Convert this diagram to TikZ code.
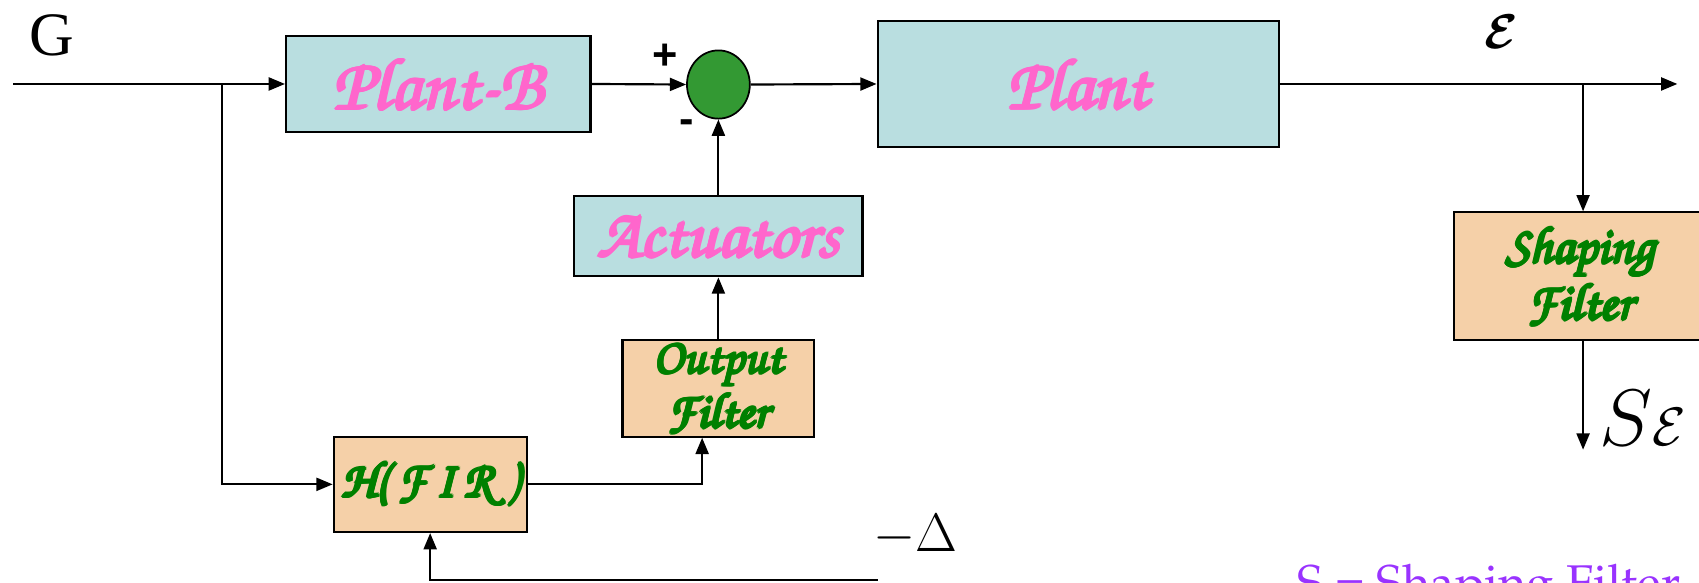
\RequirePackage{fix-cm}
\documentclass[tikz,border=0pt]{standalone}
\usepackage[T1]{fontenc}
\usepackage{fontspec}
\usetikzlibrary{arrows.meta,shapes.geometric,calc}
\newfontfamily\serifrm{Liberation Serif}
\newfontfamily\sansbf{Liberation Sans}[BoldFont={* Bold}]
% Chancery script face for the block titles
\newcommand\chanfont[2]{\fontencoding{T1}\fontfamily{pzc}\fontseries{mb}\fontshape{it}\fontsize{#1}{#2}\selectfont}
% Palatino face for the footnote
\newcommand\palfont[1]{\fontencoding{T1}\fontfamily{ppl}\fontseries{m}\fontshape{n}\fontsize{#1}{#1}\selectfont}
% heavier strokes by overprinting the text at small offsets
\newcommand\heavy[1]{\leavevmode
  \rlap{\kern1.2pt#1}\rlap{\kern-1.2pt#1}%
  \rlap{\raisebox{1.2pt}{#1}}\rlap{\raisebox{-1.2pt}{#1}}%
  \rlap{\kern.85pt\raisebox{.85pt}{#1}}\rlap{\kern-.85pt\raisebox{.85pt}{#1}}%
  \rlap{\kern.85pt\raisebox{-.85pt}{#1}}\rlap{\kern-.85pt\raisebox{-.85pt}{#1}}%
  #1}
\definecolor{plantblue}{RGB}{185,222,224}
\definecolor{peach}{RGB}{245,208,168}
\definecolor{pinktext}{RGB}{255,102,204}
\definecolor{greentext}{RGB}{0,128,0}
\definecolor{sumgreen}{RGB}{51,153,51}
\definecolor{purpletext}{RGB}{153,51,255}
\begin{document}
\begin{tikzpicture}[x=1pt,y=-1pt,
  box/.style={draw=black,line width=2pt,rectangle,inner sep=0pt},
  bluebox/.style={box,fill=plantblue},
  peachbox/.style={box,fill=peach},
  bluetext/.style={inner sep=0pt,text=pinktext,font={\chanfont{66}{66}}},
  greentext/.style={inner sep=0pt,align=center,text=greentext,font={\chanfont{48}{44}}},
  wire/.style={line width=2pt},
  arr/.style={wire,-{Triangle[length=15pt,width=12pt]}},
  sign/.style={font={\sansbf\bfseries\fontsize{40}{40}\selectfont}},
  lbl/.style={inner sep=0pt}]
\useasboundingbox (0,0) rectangle (1568,538);

% blocks
\node[bluebox,minimum width=281pt,minimum height=89pt,
  label={[bluetext,font={\chanfont{68}{68}}]center:\heavy{Plant-B}}] (pb) at (404.5,77.5) {};
\node[bluebox,minimum width=370pt,minimum height=117pt,
  label={[bluetext]center:\heavy{Plant}}] (plant) at (995,77.5) {};
\node[bluebox,minimum width=266pt,minimum height=74pt,
  label={[bluetext,font={\chanfont{64}{64}}]center:\heavy{Actuators}}] (act) at (663,218) {};
\node[peachbox,minimum width=177pt,minimum height=89pt,
  label={[greentext,font={\chanfont{46}{46}}]center:\heavy{Output}\\\heavy{Filter}}] (of) at (663,358.5) {};
\node[peachbox,minimum width=178pt,minimum height=88pt,
  label={[greentext,font={\chanfont{47}{47}}]center:\heavy{H(\,F\,I\,R\;)}}] (h) at (397,447) {};
\node[peachbox,minimum width=233pt,minimum height=118pt,
  label={[greentext]center:\heavy{Shaping}\\\heavy{Filter}}] (sf) at (1458.5,255) {};
\node[draw=black,line width=1.6pt,fill=sumgreen,ellipse,inner sep=0pt,minimum width=58pt,minimum height=63pt] (sum) at (663,78) {};

% free ends and branch points
\coordinate (in) at (12,77.5);
\coordinate (br) at (205,77.5);
\coordinate (out) at (1548,77.5);
\coordinate (ob) at (1461,77.5);
\coordinate (se) at (1461,415);
\coordinate (fb) at (810,535);

% connectors
\draw[arr] (in) -- (pb.west);
\draw[arr] (br) |- (h.west);
\draw[arr] (pb.east) -- (sum.west);
\draw[arr] (sum.east) -- (plant.west);
\draw[arr] (plant.east) -- (out);
\draw[arr] (ob) -- (ob |- sf.north);
\draw[arr] (ob |- sf.south) -- (se);
\draw[arr] (act.north) -- (sum.south);
\draw[arr] (of.north) -- (act.south);
\draw[arr] (h.east) -| ([xshift=-15pt]of.south);
\draw[arr] (fb) -| (h.south);

% labels
\node[lbl,font={\serifrm\fontsize{57}{57}\selectfont}] (g) at (48,33) {G};
\node[lbl,sign] (plus) at (614,52) {+};
\node[lbl,sign] (minus) at (634,117) {-};
\node[lbl,font={\fontsize{45}{45}\selectfont\boldmath}] (eps) at (1386,29) {$\mathcal{E}$};
\node[lbl,anchor=base west] (seps) at (1476,411) {{\fontsize{74}{74}\selectfont$S$}{\fontsize{50}{50}\selectfont$\mathcal{E}$}};
\node[lbl,font={\fontsize{50}{50}\selectfont}] (delta) at (845,494) {$-\Delta$};
\node[lbl,anchor=base west,text=purpletext,font={\palfont{45}}] (note) at (1197,553) {S = Shaping Filter};
\end{tikzpicture}
\end{document}
